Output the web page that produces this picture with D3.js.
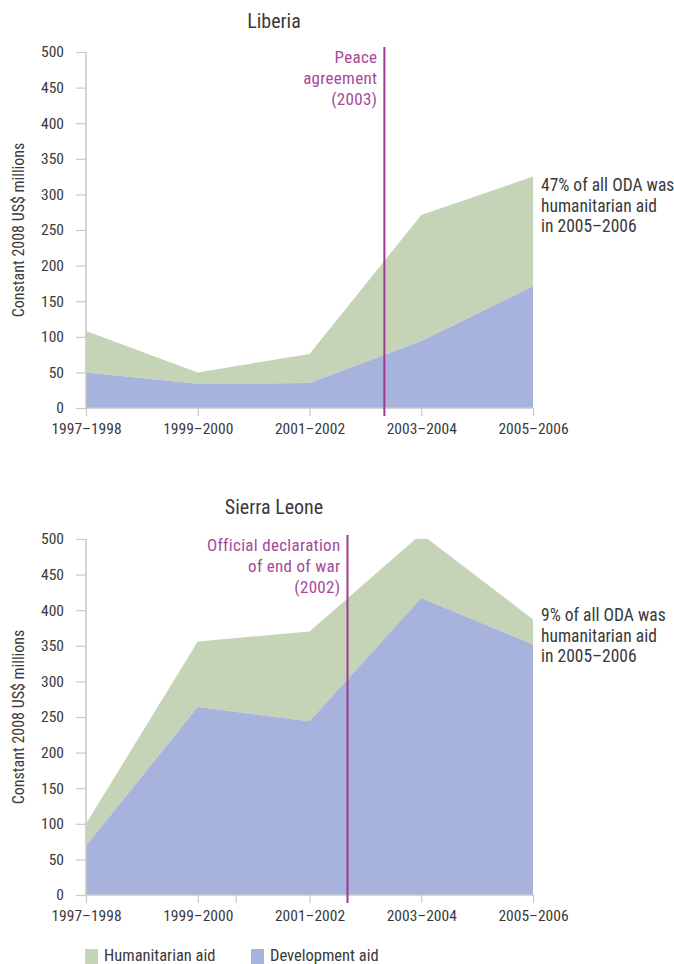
<!DOCTYPE html>
<html><head><meta charset="utf-8">
<script src="https://cdn.jsdelivr.net/npm/d3@7"></script>
<style>
body{margin:0;background:#fff;}
svg text{font-family:"Liberation Sans Narrow","Roboto Condensed","Open Sans Condensed",Roboto,sans-serif;fill:#3a3a3a;}
</style></head>
<body><svg id="c" width="674" height="964"></svg>
<script>
const periods = ["1997–1998","1999–2000","2001–2002","2003–2004","2005–2006"];
const yTicks = [0,50,100,150,200,250,300,350,400,450,500];

const liberiaDevelopment = [50, 34, 35, 94, 171];
const liberiaTotal       = [108, 50, 76, 271, 325];
const liberiaEventIndex  = 2.67;
const liberiaEventLabel  = ["Peace","agreement","(2003)"];
const liberiaNote        = ["47% of all ODA was","humanitarian aid","in 2005–2006"];

const sierraDevelopment = [69, 264, 244, 417, 352];
const sierraTotal       = [100, 356, 370, 507, 387];
const sierraEventIndex  = 2.34;
const sierraEventLabel  = ["Official declaration","of end of war","(2002)"];
const sierraNote        = ["9% of all ODA was","humanitarian aid","in 2005–2006"];
const sierraExtraTicks  = [1.34];

const legendLabels = ["Humanitarian aid","Development aid"];

const GREEN = "#c5d4b6", BLUE = "#a7b3dc", MAG = "#a3378f", MAGT = "#a8489a", AXIS = "#c9c9c9";

const svg = d3.select("#c");

function panel(o){
  const g = svg.append("g");
  const x = d3.scaleLinear().domain([0, periods.length-1]).range([86, 533]);
  const y = d3.scaleLinear().domain([0, 500]).range([o.y0, o.y0 - 356]);
  const id = "clip" + o.key;
  svg.append("clipPath").attr("id", id).append("rect")
    .attr("x", x(0)).attr("y", y(500)).attr("width", x(4)-x(0)).attr("height", y(0)-y(500));

  const areaTot = d3.area().x((d,i)=>x(i)).y0((d,i)=>y(o.dev[i])).y1(d=>y(d));
  const areaDev = d3.area().x((d,i)=>x(i)).y0(y(0)).y1(d=>y(d));
  const pg = g.append("g").attr("clip-path", `url(#${id})`);
  pg.append("path").datum(o.tot).attr("d", areaTot).attr("fill", GREEN);
  pg.append("path").datum(o.dev).attr("d", areaDev).attr("fill", BLUE);

  // y axis
  const ya = g.append("g").attr("transform", `translate(${x(0)},0)`)
    .call(d3.axisLeft(y).tickValues(yTicks).tickSize(10).tickPadding(12));
  ya.select(".domain").attr("stroke", AXIS).attr("stroke-width", 1.5).attr("d", `M0,${y(0)}V${y(500)}`);
  ya.selectAll(".tick line").attr("stroke", AXIS).attr("stroke-width", 1.2);
  ya.selectAll(".tick text").attr("font-size", 15.5).attr("fill", "#3a3a3a").attr("font-family", null);

  // x axis
  const xa = g.append("g").attr("transform", `translate(0,${y(0)})`)
    .call(d3.axisBottom(x).tickValues(d3.range(periods.length).concat(o.extra||[]))
      .tickFormat(d => Number.isInteger(d) ? periods[d] : "").tickSize(8).tickPadding(7));
  xa.select(".domain").attr("stroke", AXIS).attr("stroke-width", 1.5).attr("d", `M${x(0)},0H${x(4)}`);
  xa.selectAll(".tick line").attr("stroke", AXIS).attr("stroke-width", 1.2);
  xa.selectAll(".tick text").attr("font-size", 15.5).attr("fill", "#3a3a3a").attr("font-family", null);

  // title
  g.append("text").attr("x", 274).attr("y", o.titleY).attr("text-anchor","middle")
    .attr("font-size", 20).attr("fill","#222").text(o.title);

  // y label
  g.append("text").attr("transform", `translate(24,${o.labelY}) rotate(-90)`)
    .attr("text-anchor","middle").attr("font-size", 16).text("Constant 2008 US$ millions");

  // event line
  const ex = x(o.eventIndex);
  g.append("line").attr("x1", ex).attr("x2", ex).attr("y1", o.lineTop).attr("y2", y(0)+8)
    .attr("stroke", MAG).attr("stroke-width", 2);
  g.append("g").selectAll("text").data(o.eventLabel).join("text")
    .attr("x", ex - 7).attr("y", (d,i)=>o.eventTextY + i*21).attr("text-anchor","end")
    .attr("font-size", 17).style("fill", MAGT).attr("letter-spacing", 0.3).text(d=>d);

  // note
  g.append("g").selectAll("text").data(o.note).join("text")
    .attr("x", 541).attr("y", (d,i)=>o.noteY + i*20.5).attr("font-size", 17.5).text(d=>d);
}

panel({key:"lib", y0:408, title:"Liberia", titleY:28, labelY:230, dev:liberiaDevelopment, tot:liberiaTotal,
  eventIndex:liberiaEventIndex, eventLabel:liberiaEventLabel, lineTop:47, eventTextY:63, note:liberiaNote, noteY:191});
panel({key:"sl", y0:895, title:"Sierra Leone", titleY:514, labelY:717, dev:sierraDevelopment, tot:sierraTotal,
  eventIndex:sierraEventIndex, eventLabel:sierraEventLabel, lineTop:535, eventTextY:551, note:sierraNote, noteY:621, extra:sierraExtraTicks});

// legend
const lg = svg.append("g");
const lx = [85, 251];
lg.selectAll("rect").data(legendLabels).join("rect")
  .attr("x",(d,i)=>lx[i]).attr("y",949).attr("width",13).attr("height",16)
  .attr("fill",(d,i)=>i===0?GREEN:BLUE);
lg.selectAll("text").data(legendLabels).join("text")
  .attr("x",(d,i)=>lx[i]+19).attr("y",961).attr("font-size",16.5).text(d=>d);
</script></body></html>
